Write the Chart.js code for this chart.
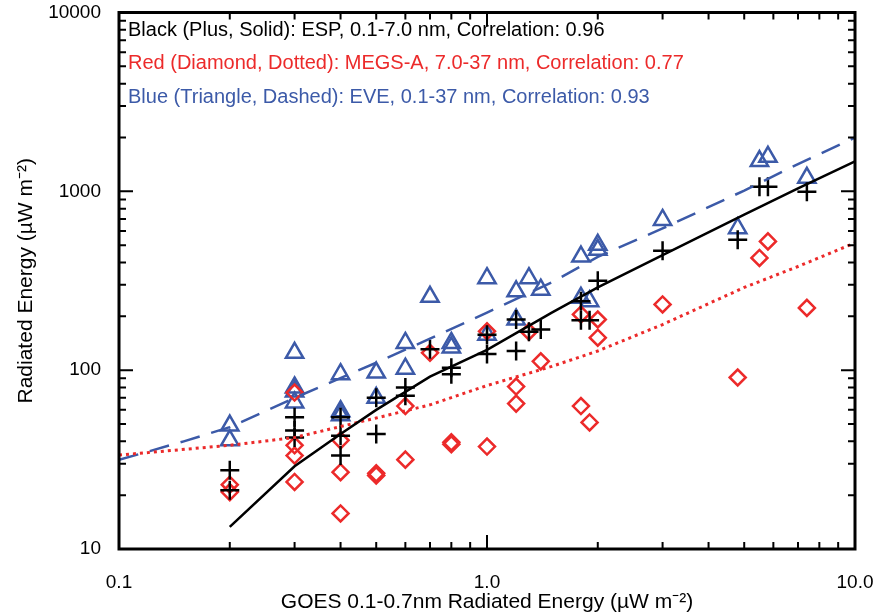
<!DOCTYPE html>
<html lang="en">
<head>
    <meta charset="UTF-8">
    <title>Radiated Energy vs GOES</title>
    <script src="https://cdn.jsdelivr.net/npm/chart.js"></script>
    <style>
        html, body { margin: 0; padding: 0; background: #fff; }
        #wrap { position: relative; width: 880px; height: 615px; }
    </style>
</head>
<body>
    <div id="wrap"><canvas id="energyChart"></canvas></div>

    <script>
        // Black plus: ESP 0.1-7.0 nm
        const espX = [0.2, 0.2, 0.3, 0.3, 0.3, 0.4, 0.4, 0.4, 0.5, 0.5, 0.6, 0.6, 0.7, 0.8, 0.8,
                      1.0, 1.0, 1.2, 1.2, 1.3, 1.4, 1.8, 1.8, 1.9, 2.0, 3.0, 4.8, 5.5, 5.8, 7.4];
        const espY = [27.6, 21.3, 54.5, 46, 42, 54.5, 43, 33.3, 70, 44, 80, 72, 131, 103, 95,
                      158, 123, 192, 128, 164, 169, 243, 190, 190, 316, 465, 536, 1062, 1062, 995];

        // Red diamond: MEGS-A 7.0-37 nm
        const megsX = [0.2, 0.2, 0.3, 0.3, 0.3, 0.3, 0.4, 0.4, 0.4, 0.5, 0.5, 0.6, 0.6, 0.7, 0.8, 0.8,
                       1.0, 1.0, 1.2, 1.2, 1.3, 1.4, 1.8, 1.8, 1.9, 2.0, 2.0, 3.0, 4.8, 5.5, 5.8, 7.4];
        const megsY = [22.9, 20.8, 75, 38, 33.3, 23.7, 40.5, 26.9, 15.8, 26.5, 25.8, 63, 31.6, 125, 39.5, 38.5,
                       165, 37.4, 81, 65, 164, 112, 205, 63, 51, 192, 152, 233, 91, 424, 525, 223];

        // Blue triangle: EVE 0.1-37 nm
        const eveX = [0.2, 0.2, 0.3, 0.3, 0.3, 0.3, 0.4, 0.4, 0.4, 0.5, 0.5, 0.6, 0.6, 0.7, 0.8, 0.8,
                      1.0, 1.0, 1.2, 1.2, 1.3, 1.4, 1.8, 1.8, 1.9, 2.0, 2.0, 3.0, 4.8, 5.5, 5.8, 7.4];
        const eveY = [49, 40.5, 125, 80, 76, 66, 95, 59, 56, 97, 70, 142, 102, 257, 142, 134,
                      327, 158, 276, 192, 327, 282, 432, 254, 243, 471, 502, 692, 622, 1476, 1560, 1191];

        // fit lines
        const espFitX = [0.2, 0.3, 0.4, 0.5, 0.7, 1.0, 1.5, 2.0, 3.0, 5.0, 7.0, 10];
        const espFitY = [13.3, 29, 44, 60, 92, 130, 210, 290, 440, 740, 1040, 1470];
        const megsFitX = [0.1, 0.2, 0.3, 0.5, 0.7, 1.0, 1.5, 2.0, 3.0, 5.0, 7.0, 10];
        const megsFitY = [33.5, 38, 42, 54, 64, 82, 105, 128, 180, 290, 380, 515];
        const eveFitX = [0.1, 0.15, 0.2, 0.3, 0.5, 0.7, 1.0, 1.5, 2.0, 3.0, 5.0, 7.0, 10];
        const eveFitY = [31.5, 40, 48, 70, 110, 150, 210, 310, 430, 620, 1010, 1420, 2000];

        const xTicks = [0.1, 1, 10];
        const yTicks = [10, 100, 1000, 10000];

        const legendLines = [
            { text: 'Black (Plus, Solid): ESP, 0.1-7.0 nm, Correlation: 0.96', color: '#000000' },
            { text: 'Red (Diamond, Dotted): MEGS-A, 7.0-37 nm, Correlation: 0.77', color: '#ec2a2a' },
            { text: 'Blue (Triangle, Dashed): EVE, 0.1-37 nm, Correlation: 0.93', color: '#3c5aa8' }
        ];

        const RED = '#ec2a2a';
        const BLUE = '#3c5aa8';
        const FONT = '"Liberation Sans", Arial, sans-serif';

        function pairs(xs, ys) {
            return xs.map((x, i) => ({ x: x, y: ys[i] }));
        }

        // IDL style box with inward major/minor ticks on all four sides
        const boxPlugin = {
            id: 'boxTicks',
            afterDraw(chart) {
                const { ctx, chartArea: a, scales } = chart;
                ctx.save();
                ctx.strokeStyle = '#000';
                ctx.lineWidth = 2;
                const decades = (min, max, cb) => {
                    for (let p = Math.round(Math.log10(min)); p < Math.round(Math.log10(max)); p++) {
                        for (let d = 1; d <= 9; d++) cb(d * Math.pow(10, p), d === 1);
                    }
                    cb(max, true);
                };
                ctx.beginPath();
                decades(0.1, 10, (v, major) => {
                    const px = scales.x.getPixelForValue(v);
                    const len = major ? 14 : 7;
                    ctx.moveTo(px, a.bottom); ctx.lineTo(px, a.bottom - len);
                    ctx.moveTo(px, a.top); ctx.lineTo(px, a.top + len);
                });
                decades(10, 10000, (v, major) => {
                    const py = scales.y.getPixelForValue(v);
                    const len = major ? 14 : 7;
                    ctx.moveTo(a.left, py); ctx.lineTo(a.left + len, py);
                    ctx.moveTo(a.right, py); ctx.lineTo(a.right - len, py);
                });
                ctx.stroke();
                ctx.lineWidth = 3;
                ctx.strokeRect(a.left, a.top, a.right - a.left, a.bottom - a.top);

                // legend text
                ctx.font = '20px ' + FONT;
                ctx.textBaseline = 'middle';
                ctx.textAlign = 'left';
                legendLines.forEach((l, i) => {
                    ctx.fillStyle = l.color;
                    ctx.fillText(l.text, a.left + 9, a.top + 17.5 + i * 33.5);
                });
                ctx.restore();
            }
        };

        const ctxEnergy = document.getElementById('energyChart').getContext('2d');
        new Chart(ctxEnergy, {
            type: 'scatter',
            data: {
                datasets: [
                    {
                        label: 'ESP fit',
                        data: pairs(espFitX, espFitY),
                        showLine: true,
                        borderColor: '#000',
                        borderWidth: 2.5,
                        pointRadius: 0,
                        tension: 0
                    },
                    {
                        label: 'MEGS-A fit',
                        data: pairs(megsFitX, megsFitY),
                        showLine: true,
                        borderColor: RED,
                        borderWidth: 3,
                        borderDash: [3, 4],
                        pointRadius: 0,
                        tension: 0
                    },
                    {
                        label: 'EVE fit',
                        data: pairs(eveFitX, eveFitY),
                        showLine: true,
                        borderColor: BLUE,
                        borderWidth: 2.5,
                        borderDash: [20, 12],
                        pointRadius: 0,
                        tension: 0
                    },
                    {
                        label: 'ESP',
                        data: pairs(espX, espY),
                        pointStyle: 'cross',
                        pointRadius: 9.5,
                        borderColor: '#000',
                        borderWidth: 2.5
                    },
                    {
                        label: 'MEGS-A',
                        data: pairs(megsX, megsY),
                        pointStyle: 'rectRot',
                        pointRadius: 8,
                        borderColor: RED,
                        backgroundColor: 'rgba(0,0,0,0)',
                        borderWidth: 2.5
                    },
                    {
                        label: 'EVE',
                        data: pairs(eveX, eveY),
                        pointStyle: 'triangle',
                        pointRadius: 10,
                        borderColor: BLUE,
                        backgroundColor: 'rgba(0,0,0,0)',
                        borderWidth: 2.5
                    }
                ]
            },
            options: {
                responsive: true,
                maintainAspectRatio: false,
                animation: false,
                layout: { padding: { left: 0, right: 25, top: 8, bottom: 0 } },
                plugins: {
                    legend: { display: false },
                    tooltip: { enabled: false }
                },
                scales: {
                    x: {
                        type: 'logarithmic',
                        min: 0.1,
                        max: 10,
                        afterBuildTicks: s => { s.ticks = xTicks.map(v => ({ value: v })); },
                        afterFit: s => { s.height = 66; s.paddingLeft = 0; s.paddingRight = 0; },
                        grid: { display: false },
                        border: { display: false },
                        ticks: {
                            padding: 14,
                            color: '#000',
                            font: { family: FONT, size: 19 },
                            callback: v => v.toFixed(1)
                        },
                        title: {
                            display: true,
                            text: 'GOES 0.1-0.7nm Radiated Energy (\u00B5W m\u207B\u00B2)',
                            color: '#000',
                            font: { family: FONT, size: 21 },
                            padding: { top: 0, bottom: 0 }
                        }
                    },
                    y: {
                        type: 'logarithmic',
                        min: 10,
                        max: 10000,
                        afterBuildTicks: s => { s.ticks = yTicks.map(v => ({ value: v })); },
                        afterFit: s => { s.width = 119; s.paddingTop = 0; s.paddingBottom = 0; },
                        grid: { display: false },
                        border: { display: false },
                        ticks: {
                            padding: 10,
                            color: '#000',
                            font: { family: FONT, size: 19 },
                            callback: v => String(v)
                        },
                        title: {
                            display: true,
                            text: 'Radiated Energy (\u00B5W m\u207B\u00B2)',
                            color: '#000',
                            font: { family: FONT, size: 21 },
                            padding: { top: 14, bottom: 0 }
                        }
                    }
                }
            },
            plugins: [boxPlugin]
        });
    </script>
</body>
</html>
